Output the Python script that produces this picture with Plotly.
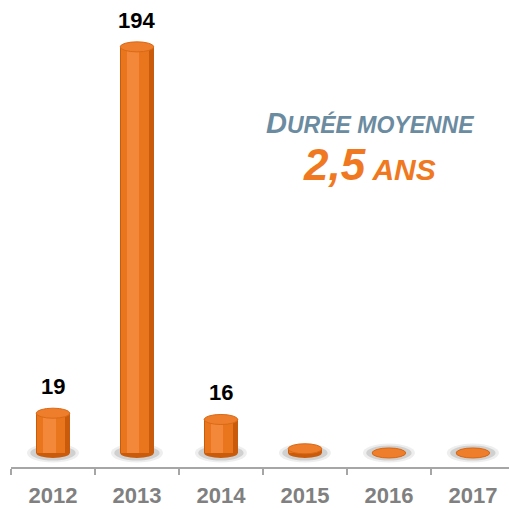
''' Durée moyenne - cylinder bar chart '''
import plotly.graph_objects as go

years = ['2012', '2013', '2014', '2015', '2016', '2017']
values = [19, 194, 16, 2, 0, 0]
value_labels = ['19', '194', '16', '', '', '']

x_pos = list(range(len(years)))
bar_w = 0.40
cap_h = 2.4  # half height of the ellipse caps, in data units

fig = go.Figure()

# layered bars to fake the cylinder shading
fig.add_trace(go.Bar(x=x_pos, y=values, width=bar_w, marker_color='#C95C0C',
                     marker_line_width=0, hoverinfo='skip'))
fig.add_trace(go.Bar(x=x_pos, y=values, width=0.33, offset=-0.19, marker_color='#E9761C',
                     marker_line_width=0, hoverinfo='skip'))
fig.add_trace(go.Bar(x=x_pos, y=values, width=0.15, offset=-0.12, marker_color='#F4883A',
                     marker_line_width=0, hoverinfo='skip'))

shapes = []
for i, v in zip(x_pos, values):
    # soft shadow at the base
    shapes.append(dict(type='circle', xref='x', yref='y', layer='below',
                       x0=i - 0.31, x1=i + 0.31, y0=-cap_h * 1.9, y1=cap_h * 1.9,
                       fillcolor='rgba(150,150,150,0.16)', line_width=0))
    shapes.append(dict(type='circle', xref='x', yref='y', layer='below',
                       x0=i - 0.27, x1=i + 0.27, y0=-cap_h * 1.5, y1=cap_h * 1.5,
                       fillcolor='rgba(120,120,120,0.25)', line_width=0))
    # rounded bottom
    shapes.append(dict(type='circle', xref='x', yref='y', layer='below',
                       x0=i - bar_w / 2, x1=i + bar_w / 2, y0=-cap_h, y1=cap_h,
                       fillcolor='#C95C0C', line_width=0))
    # top cap
    shapes.append(dict(type='circle', xref='x', yref='y', layer='above',
                       x0=i - bar_w / 2, x1=i + bar_w / 2, y0=v - cap_h, y1=v + cap_h,
                       fillcolor='#EE7E2C', line=dict(color='#D96A16', width=1)))

annotations = []
for i, v, lab in zip(x_pos, values, value_labels):
    if lab:
        annotations.append(dict(x=i, y=v, xref='x', yref='y', text=lab,
                                showarrow=False, yanchor='bottom', yshift=12,
                                font=dict(family='Liberation Sans, Arial', size=22,
                                          color='#000000', weight='bold')))

annotations.append(dict(
    x=0.72, y=0.745, xref='paper', yref='paper', showarrow=False,
    xanchor='center', yanchor='middle',
    text='<i><b><span style="font-size:29px">D</span>URÉE MOYENNE</b></i>',
    font=dict(family='Liberation Sans, Arial', size=23, color='#6B8BA0')))
annotations.append(dict(
    x=0.72, y=0.655, xref='paper', yref='paper', showarrow=False,
    xanchor='center', yanchor='middle',
    text='<i><b><span style="font-size:44px">2,5</span> ANS</b></i>',
    font=dict(family='Liberation Sans, Arial', size=30, color='#F07820')))

fig.update_layout(
    width=509, height=509,
    margin=dict(l=11, r=0, t=5, b=42),
    plot_bgcolor='white', paper_bgcolor='white',
    barmode='overlay', bargap=0,
    showlegend=False,
    shapes=shapes,
    annotations=annotations,
    xaxis=dict(
        range=[-0.5, 5.43], tickmode='array', tickvals=x_pos, ticktext=years,
        ticks='', showgrid=False, zeroline=False,
        showline=True, linecolor='#A6A6A6', linewidth=2,
        ticklabelstandoff=8, automargin=False,
        tickfont=dict(family='Liberation Sans, Arial', size=22, color='#808080', weight='bold'),
        minor=dict(tick0=-0.5, dtick=1, ticks='outside', ticklen=6, tickwidth=2,
                   tickcolor='#A6A6A6', showgrid=False),
    ),
    yaxis=dict(range=[-6.7, 214], visible=False, showgrid=False, zeroline=False,
               automargin=False),
)

# drop the default page margin so the figure sits at the window corner
fig.write_html('out.html', config={'displayModeBar': False},
               post_script="document.body.style.margin='0';")
